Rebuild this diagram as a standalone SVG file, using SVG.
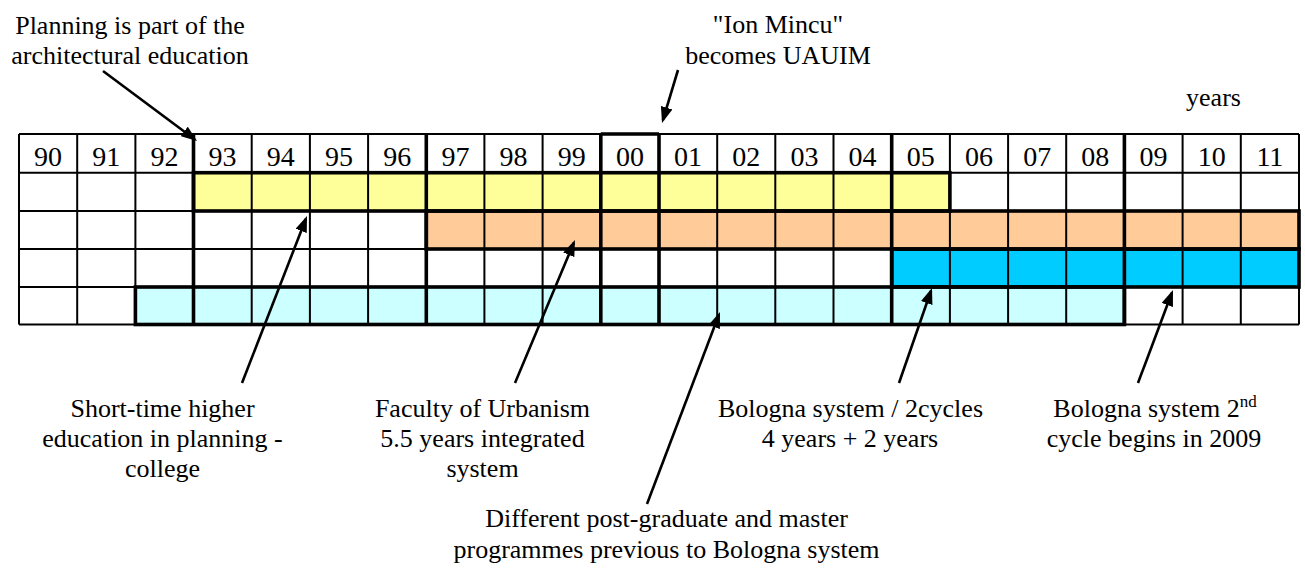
<svg xmlns="http://www.w3.org/2000/svg" width="1305" height="575" viewBox="0 0 1305 575">
<defs>
<marker id="ah" viewBox="0 0 16 12" refX="13" refY="6" markerWidth="16" markerHeight="12" markerUnits="userSpaceOnUse" orient="auto">
<path d="M0,0 L16,6 L0,12 z" fill="#000"/>
</marker>
</defs>
<rect width="1305" height="575" fill="#fff"/>

<g id="timeline">
<rect x="193.5" y="172.7" width="756.4" height="38.3" fill="#FFFF99"/>
<rect x="426.3" y="211" width="872.7" height="38" fill="#FFCC99"/>
<rect x="891.7" y="249" width="407.3" height="38" fill="#00CCFF"/>
<rect x="135.4" y="287" width="989" height="37.5" fill="#CCFFFF"/>
<path fill="none" stroke="#000" stroke-width="2" d="M19,134H1299M19,172.7H1299M19,211H1299M19,249H1299M19,287H1299M19,324.5H1299
M19,134V324.5M77.2,134V324.5M135.4,134V324.5M193.5,134V324.5M251.7,134V324.5M309.9,134V324.5M368.1,134V324.5M426.3,134V324.5M484.4,134V324.5M542.6,134V324.5M600.8,134V324.5M659,134V324.5M717.2,134V324.5M775.3,134V324.5M833.5,134V324.5M891.7,134V324.5M949.9,134V324.5M1008.1,134V324.5M1066.2,134V324.5M1124.4,134V324.5M1182.6,134V324.5M1240.8,134V324.5M1299,134V324.5"/>
<g fill="none" stroke="#000" stroke-width="3.6">
<path d="M193.5,134V324.5M426.3,134V324.5M600.8,134V324.5M659,134V324.5M891.7,134V324.5M1124.4,134V324.5M600.8,134H659"/>
<rect x="193.5" y="172.7" width="756.4" height="38.3"/>
<rect x="426.3" y="211" width="872.7" height="38"/>
<rect x="891.7" y="249" width="407.3" height="38"/>
<rect x="135.4" y="287" width="989" height="37.5"/>
</g>
<text font-family="Liberation Serif" font-size="28" text-anchor="middle" y="166"><tspan x="48.1">90</tspan><tspan x="106.3">91</tspan><tspan x="164.5">92</tspan><tspan x="222.6">93</tspan><tspan x="280.8">94</tspan><tspan x="339">95</tspan><tspan x="397.2">96</tspan><tspan x="455.4">97</tspan><tspan x="513.5">98</tspan><tspan x="571.7">99</tspan><tspan x="629.9">00</tspan><tspan x="688.1">01</tspan><tspan x="746.3">02</tspan><tspan x="804.4">03</tspan><tspan x="862.6">04</tspan><tspan x="920.8">05</tspan><tspan x="979">06</tspan><tspan x="1037.2">07</tspan><tspan x="1095.3">08</tspan><tspan x="1153.5">09</tspan><tspan x="1211.7">10</tspan><tspan x="1269.9">11</tspan></text>
</g>

<g font-family="Liberation Serif" font-size="26" text-anchor="middle" fill="#000">
<g id="label-years"><text x="1213.5" y="106">years</text></g>
<g id="label-planning"><text x="130" y="34">Planning is part of the</text><text x="130" y="64">architectural education</text></g>
<g id="label-ionmincu"><text x="778" y="33">"Ion Mincu"</text><text x="778" y="64">becomes UAUIM</text></g>
<g id="label-shorttime"><text x="162.5" y="417">Short-time higher</text><text x="162.5" y="447">education in planning -</text><text x="162.5" y="477">college</text></g>
<g id="label-faculty"><text x="482.5" y="417">Faculty of Urbanism</text><text x="482.5" y="447">5.5 years integrated</text><text x="482.5" y="477">system</text></g>
<g id="label-bologna"><text x="850.5" y="417">Bologna system / 2cycles</text><text x="850" y="447">4 years + 2 years</text></g>
<g id="label-bologna2"><text x="1155" y="417">Bologna system 2<tspan font-size="17" dy="-10">nd</tspan></text><text x="1154" y="447">cycle begins in 2009</text></g>
<g id="label-different"><text x="666.5" y="527">Different post-graduate and master</text><text x="666.5" y="558">programmes previous to Bologna system</text></g>
</g>

<g id="connectors" stroke="#000" stroke-width="2.6">
<line x1="103" y1="71" x2="194.6" y2="139.2" marker-end="url(#ah)"/>
<line x1="678" y1="70" x2="662.9" y2="120.1" marker-end="url(#ah)"/>
<line x1="242" y1="383" x2="305.9" y2="218.8" marker-end="url(#ah)"/>
<line x1="515" y1="383" x2="573.8" y2="242.8" marker-end="url(#ah)"/>
<line x1="647" y1="504" x2="718.9" y2="314.8" marker-end="url(#ah)"/>
<line x1="899" y1="383" x2="931" y2="290.8" marker-end="url(#ah)"/>
<line x1="1138" y1="383" x2="1171.9" y2="292.8" marker-end="url(#ah)"/>
</g>
</svg>
